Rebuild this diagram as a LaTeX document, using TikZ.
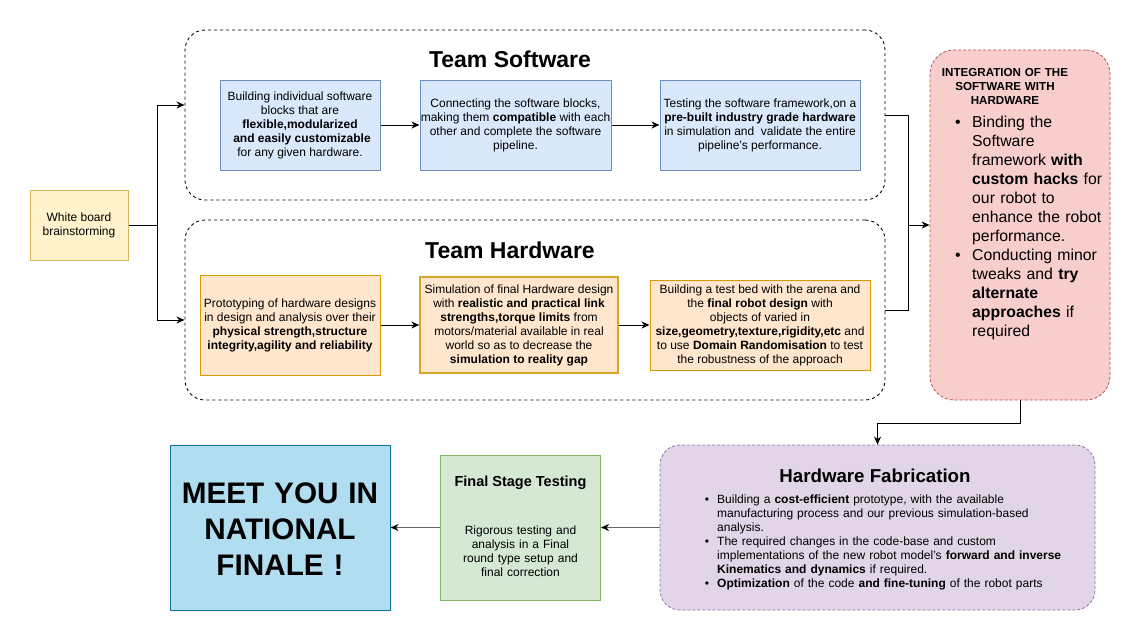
\documentclass[tikz,border=0pt]{standalone}
\usepackage{fontspec}
\setmainfont{Liberation Sans}
\usetikzlibrary{arrows.meta,calc}

\definecolor{swfill}{HTML}{DAE8FC}\definecolor{swline}{HTML}{6C8EBF}
\definecolor{hwfill}{HTML}{FFE6CC}\definecolor{hwline}{HTML}{D79B00}
\definecolor{wbfill}{HTML}{FFF2CC}\definecolor{wbline}{HTML}{D6B656}
\definecolor{infill}{HTML}{F8CECC}\definecolor{inline}{HTML}{B85450}
\definecolor{hffill}{HTML}{E1D5E7}\definecolor{hfline}{HTML}{9673A6}
\definecolor{ftfill}{HTML}{D5E8D4}\definecolor{ftline}{HTML}{82B366}
\definecolor{mtfill}{HTML}{B1DDF0}\definecolor{mtline}{HTML}{10739E}
\definecolor{wire}{HTML}{666666}

\begin{document}
\begin{tikzpicture}[x=1pt,y=-1pt,
  box/.style={draw, rectangle, inner sep=0pt, align=center, line width=1pt,
    font=\fontsize{12}{14}\selectfont},
  swbox/.style={box, fill=swfill, draw=swline},
  hwbox/.style={box, fill=hwfill, draw=hwline},
  group/.style={draw, rectangle, rounded corners=20pt, dash pattern=on 3pt off 3pt,
    line width=0.9pt, inner sep=0pt},
  grouptitle/.style={anchor=base, inner sep=0pt, font=\bfseries\fontsize{23}{27}\selectfont},
  body/.style={inner sep=0pt, font=\fontsize{12}{14}\selectfont},
  bigbody/.style={inner sep=0pt, font=\fontsize{15.8}{19}\selectfont},
  dot/.style={anchor=base, inner sep=0pt},
  link/.style={line width=1pt},
  arr/.style={link, -{Stealth[length=8pt,width=7pt,inset=2.5pt]}},
  greyarr/.style={link, draw=wire, line width=1.4pt,
    -{Stealth[length=8pt,width=7pt,inset=2.5pt,color=black]}}
]
\useasboundingbox (0,0) rectangle (1141,641);
\fill[white] (0,0) rectangle (1141,641);

% start
\node[box, fill=wbfill, draw=wbline, minimum width=98, minimum height=70] (wb) at (79,225)
  {White board\\brainstorming};

% software group
\node[group, minimum width=700, minimum height=170] (swc) at (535,115) {};
\node[grouptitle] (swt) at (510,67) {Team Software};
\node[swbox, minimum width=160, minimum height=90] (sw1) at (300,125)
  {Building individual software\\blocks that are\\\textbf{flexible,modularized}\\\hspace*{4pt}\textbf{and easily customizable}\\for any given hardware.};
\node[swbox, minimum width=191, minimum height=90] (sw2) at (515.5,125)
  {Connecting the software blocks,\\making them \textbf{compatible} with each\\other and complete the software\\pipeline.};
\node[swbox, minimum width=200, minimum height=90] (sw3) at (760,125)
  {Testing the software framework,on a\\\textbf{pre-built industry grade hardware}\\in simulation and\ \ validate the entire\\pipeline's performance.};

% hardware group
\node[group, minimum width=700, minimum height=180] (hwc) at (535,310) {};
\node[grouptitle] (hwt) at (510,258) {Team Hardware};
\node[hwbox, minimum width=180, minimum height=100] (hw1) at (290,325)
  {Prototyping of hardware designs\\in design and analysis over their\\\textbf{physical strength,structure}\\\textbf{integrity,agility and reliability}};
\node[hwbox, draw=hwline!60!wbline, line width=1.3pt, minimum width=198, minimum height=96] (hw2) at (519,325)
  {Simulation of final Hardware design\\with \textbf{realistic and practical link}\\\textbf{strengths,torque limits} from\\motors/material available in real\\world so as to decrease the\\\textbf{simulation to reality gap}};
\node[hwbox, minimum width=220, minimum height=90] (hw3) at (760,325)
  {Building a test bed with the arena and\\the \textbf{final robot design} with\\objects of varied in\\\textbf{size,geometry,texture,rigidity,etc} and\\to use \textbf{Domain Randomisation} to test\\the robustness of the approach};

% integration
\node[draw=inline, fill=infill, rectangle, rounded corners=24pt, dash pattern=on 3pt off 2pt,
  line width=0.8pt, minimum width=180, minimum height=350, inner sep=0pt] (integ) at (1020,225) {};
\node[anchor=base, inner sep=0pt, text width=150, align=center,
  font=\bfseries\fontsize{11.6}{14}\selectfont] (intt) at (1005,76)
  {INTEGRATION OF THE\\SOFTWARE WITH\\HARDWARE};
\node[dot, bigbody] (ind1) at (958,127) {•};
\node[anchor=base west, bigbody, text width=140, align=left] (inb1) at (972,127)
  {Binding the\\Software\\framework \textbf{with}\\\textbf{custom hacks} for\\our robot to\\enhance the robot\\performance.};
\node[dot, bigbody] (ind2) at (958,260) {•};
\node[anchor=base west, bigbody, text width=140, align=left] (inb2) at (972,260)
  {Conducting minor\\tweaks and \textbf{try}\\\textbf{alternate}\\\textbf{approaches} if\\required};

% hardware fabrication
\node[draw=hfline, fill=hffill, rectangle, rounded corners=20pt, dash pattern=on 3pt off 2pt,
  line width=0.8pt, minimum width=435, minimum height=165, inner sep=0pt] (hf) at (877.5,527.5) {};
\node[anchor=base, inner sep=0pt, font=\bfseries\fontsize{18.7}{22}\selectfont] (hft) at (875,482)
  {Hardware Fabrication};
\node[dot, font=\fontsize{12}{14}\selectfont] (hfd1) at (707,503) {•};
\node[anchor=base west, body, text width=380, align=left] (hfb1) at (717,503)
  {Building a \textbf{cost-efficient} prototype, with the available\\manufacturing process and our previous simulation-based\\analysis.};
\node[dot, font=\fontsize{12}{14}\selectfont] (hfd2) at (707,545) {•};
\node[anchor=base west, body, text width=380, align=left] (hfb2) at (717,545)
  {The required changes in the code-base and custom\\implementations of the new robot model's \textbf{forward and inverse}\\\textbf{Kinematics and dynamics} if required.};
\node[dot, font=\fontsize{12}{14}\selectfont] (hfd3) at (707,587) {•};
\node[anchor=base west, body, text width=380, align=left] (hfb3) at (717,587)
  {\textbf{Optimization} of the code \textbf{and fine-tuning} of the robot parts};

% final testing
\node[draw=ftline, fill=ftfill, rectangle, line width=1pt, minimum width=160, minimum height=145,
  inner sep=0pt] (ft) at (520.5,527.5) {};
\node[anchor=base, inner sep=0pt, font=\bfseries\fontsize{14.5}{17}\selectfont] (ftt) at (520.5,486)
  {Final Stage Testing};
\node[anchor=base, body, text width=140, align=center] (ftb) at (520.5,534)
  {Rigorous testing and\\analysis in a Final\\round type setup and\\final correction};

% finale
\node[draw=mtline, fill=mtfill, rectangle, line width=1pt, minimum width=220, minimum height=165,
  inner sep=0pt] (meet) at (280,527.5) {};
\node[anchor=base, inner sep=0pt, text width=215, align=center,
  font=\bfseries\fontsize{29.7}{36}\selectfont] (meett) at (280,503)
  {MEET YOU IN\\NATIONAL\\FINALE !};

% connectors
\coordinate (split) at (157,225);
\coordinate (merge) at (908,225);
\draw[link] (wb.east) -- (split);
\draw[arr] (split) |- ([yshift=10pt]swc.west);
\draw[arr] (split) |- ([yshift=-10pt]hwc.west);
\draw[arr] (sw1) -- (sw2);
\draw[arr] (sw2) -- (sw3);
\draw[arr] (hw1) -- (hw2);
\draw[arr] (hw2) -- (hw3);
\draw[link] (swc.east) -| (merge);
\draw[link] (hwc.east) -| (merge);
\draw[arr] (merge) -- (integ.west);
\draw[arr] (integ.south) -- ++(0,23) -| (hf.north);
\draw[greyarr] (hf.west) -- (ft.east);
\draw[greyarr] (ft.west) -- (meet.east);
\end{tikzpicture}
\end{document}
